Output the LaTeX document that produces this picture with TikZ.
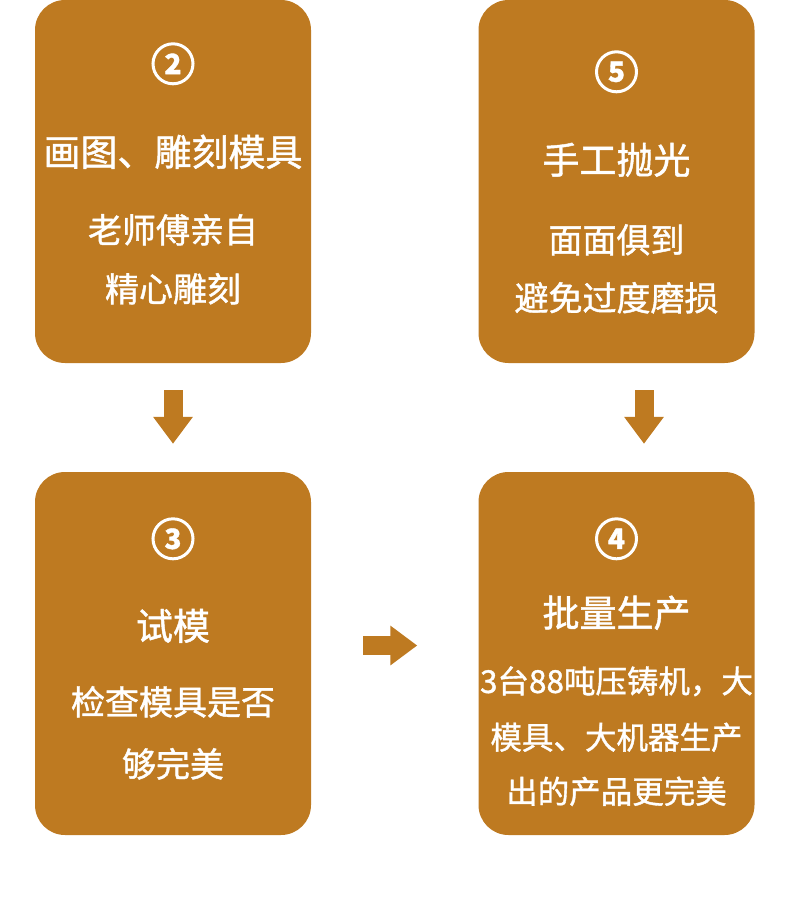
\documentclass[tikz,border=0pt]{standalone}
\usepackage{fontspec}
\setmainfont{Noto Sans CJK SC}[FakeBold=1.2]
\usetikzlibrary{arrows.meta}
\definecolor{mould}{RGB}{190,122,33}
\begin{document}
\begin{tikzpicture}[x=1pt, y=1pt,
  card/.style={fill=mould, rounded corners=30pt, minimum width=276pt, minimum height=363pt, inner sep=0pt},
  num/.style={circle, draw=white, line width=3pt, minimum size=40pt, inner sep=0pt, text=white, font=\fontsize{28}{28}\selectfont\bfseries},
  headtxt/.style={text=white, font=\fontsize{37}{37}\selectfont},
  bodytxt/.style={text=white, font=\fontsize{34}{34}\selectfont},
  smalltxt/.style={text=white, font=\fontsize{31.5}{31.5}\selectfont},
  fatarrow/.style={draw=mould, line width=19pt, -{Triangle[width=38pt,length=27pt]}}]
  \useasboundingbox (0,0) rectangle (800,-903);
  % the four cards
  \node[card] (box2) at (173,-181.5) {};
  \node[card] (box5) at (616.5,-181.5) {};
  \node[card] (box3) at (173,-653.5) {};
  \node[card] (box4) at (616.5,-653.5) {};
  % step 2
  \node[num] (n2) at ([yshift=-64pt]box2.north) {2};
  \node[headtxt] (h2) at ([yshift=-152pt]box2.north) {画图、雕刻模具};
  \node[bodytxt] (a2) at ([yshift=-230pt]box2.north) {老师傅亲自};
  \node[bodytxt] (b2) at ([yshift=-289pt]box2.north) {精心雕刻};
  % step 5
  \node[num] (n5) at ([yshift=-72pt]box5.north) {5};
  \node[headtxt] (h5) at ([yshift=-160pt]box5.north) {手工抛光};
  \node[bodytxt] (a5) at ([yshift=-240pt]box5.north) {面面俱到};
  \node[bodytxt] (b5) at ([yshift=-298pt]box5.north) {避免过度磨损};
  % step 3
  \node[num] (n3) at ([yshift=-67pt]box3.north) {3};
  \node[headtxt] (h3) at ([yshift=-154pt]box3.north) {试模};
  \node[bodytxt] (a3) at ([yshift=-230pt]box3.north) {检查模具是否};
  \node[bodytxt] (b3) at ([yshift=-292pt]box3.north) {够完美};
  % step 4
  \node[num] (n4) at ([yshift=-67pt]box4.north) {4};
  \node[headtxt] (h4) at ([yshift=-141pt]box4.north) {批量生产};
  \node[smalltxt] (a4) at ([yshift=-209.5pt]box4.north) {3台88吨压铸机，大};
  \node[smalltxt] (b4) at ([yshift=-265.5pt]box4.north) {模具、大机器生产};
  \node[smalltxt] (c4) at ([yshift=-319.5pt]box4.north) {出的产品更完美};
  % arrows
  \draw[fatarrow] ([yshift=-27pt]box2.south) -- ([yshift=28pt]box3.north);
  \draw[fatarrow] ([xshift=27.5pt,yshift=-27pt]box5.south) -- ([xshift=27.5pt,yshift=28pt]box4.north);
  \draw[fatarrow] ([xshift=52pt,yshift=8pt]box3.east) -- ([xshift=-61pt,yshift=8pt]box4.west);
\end{tikzpicture}
\end{document}
